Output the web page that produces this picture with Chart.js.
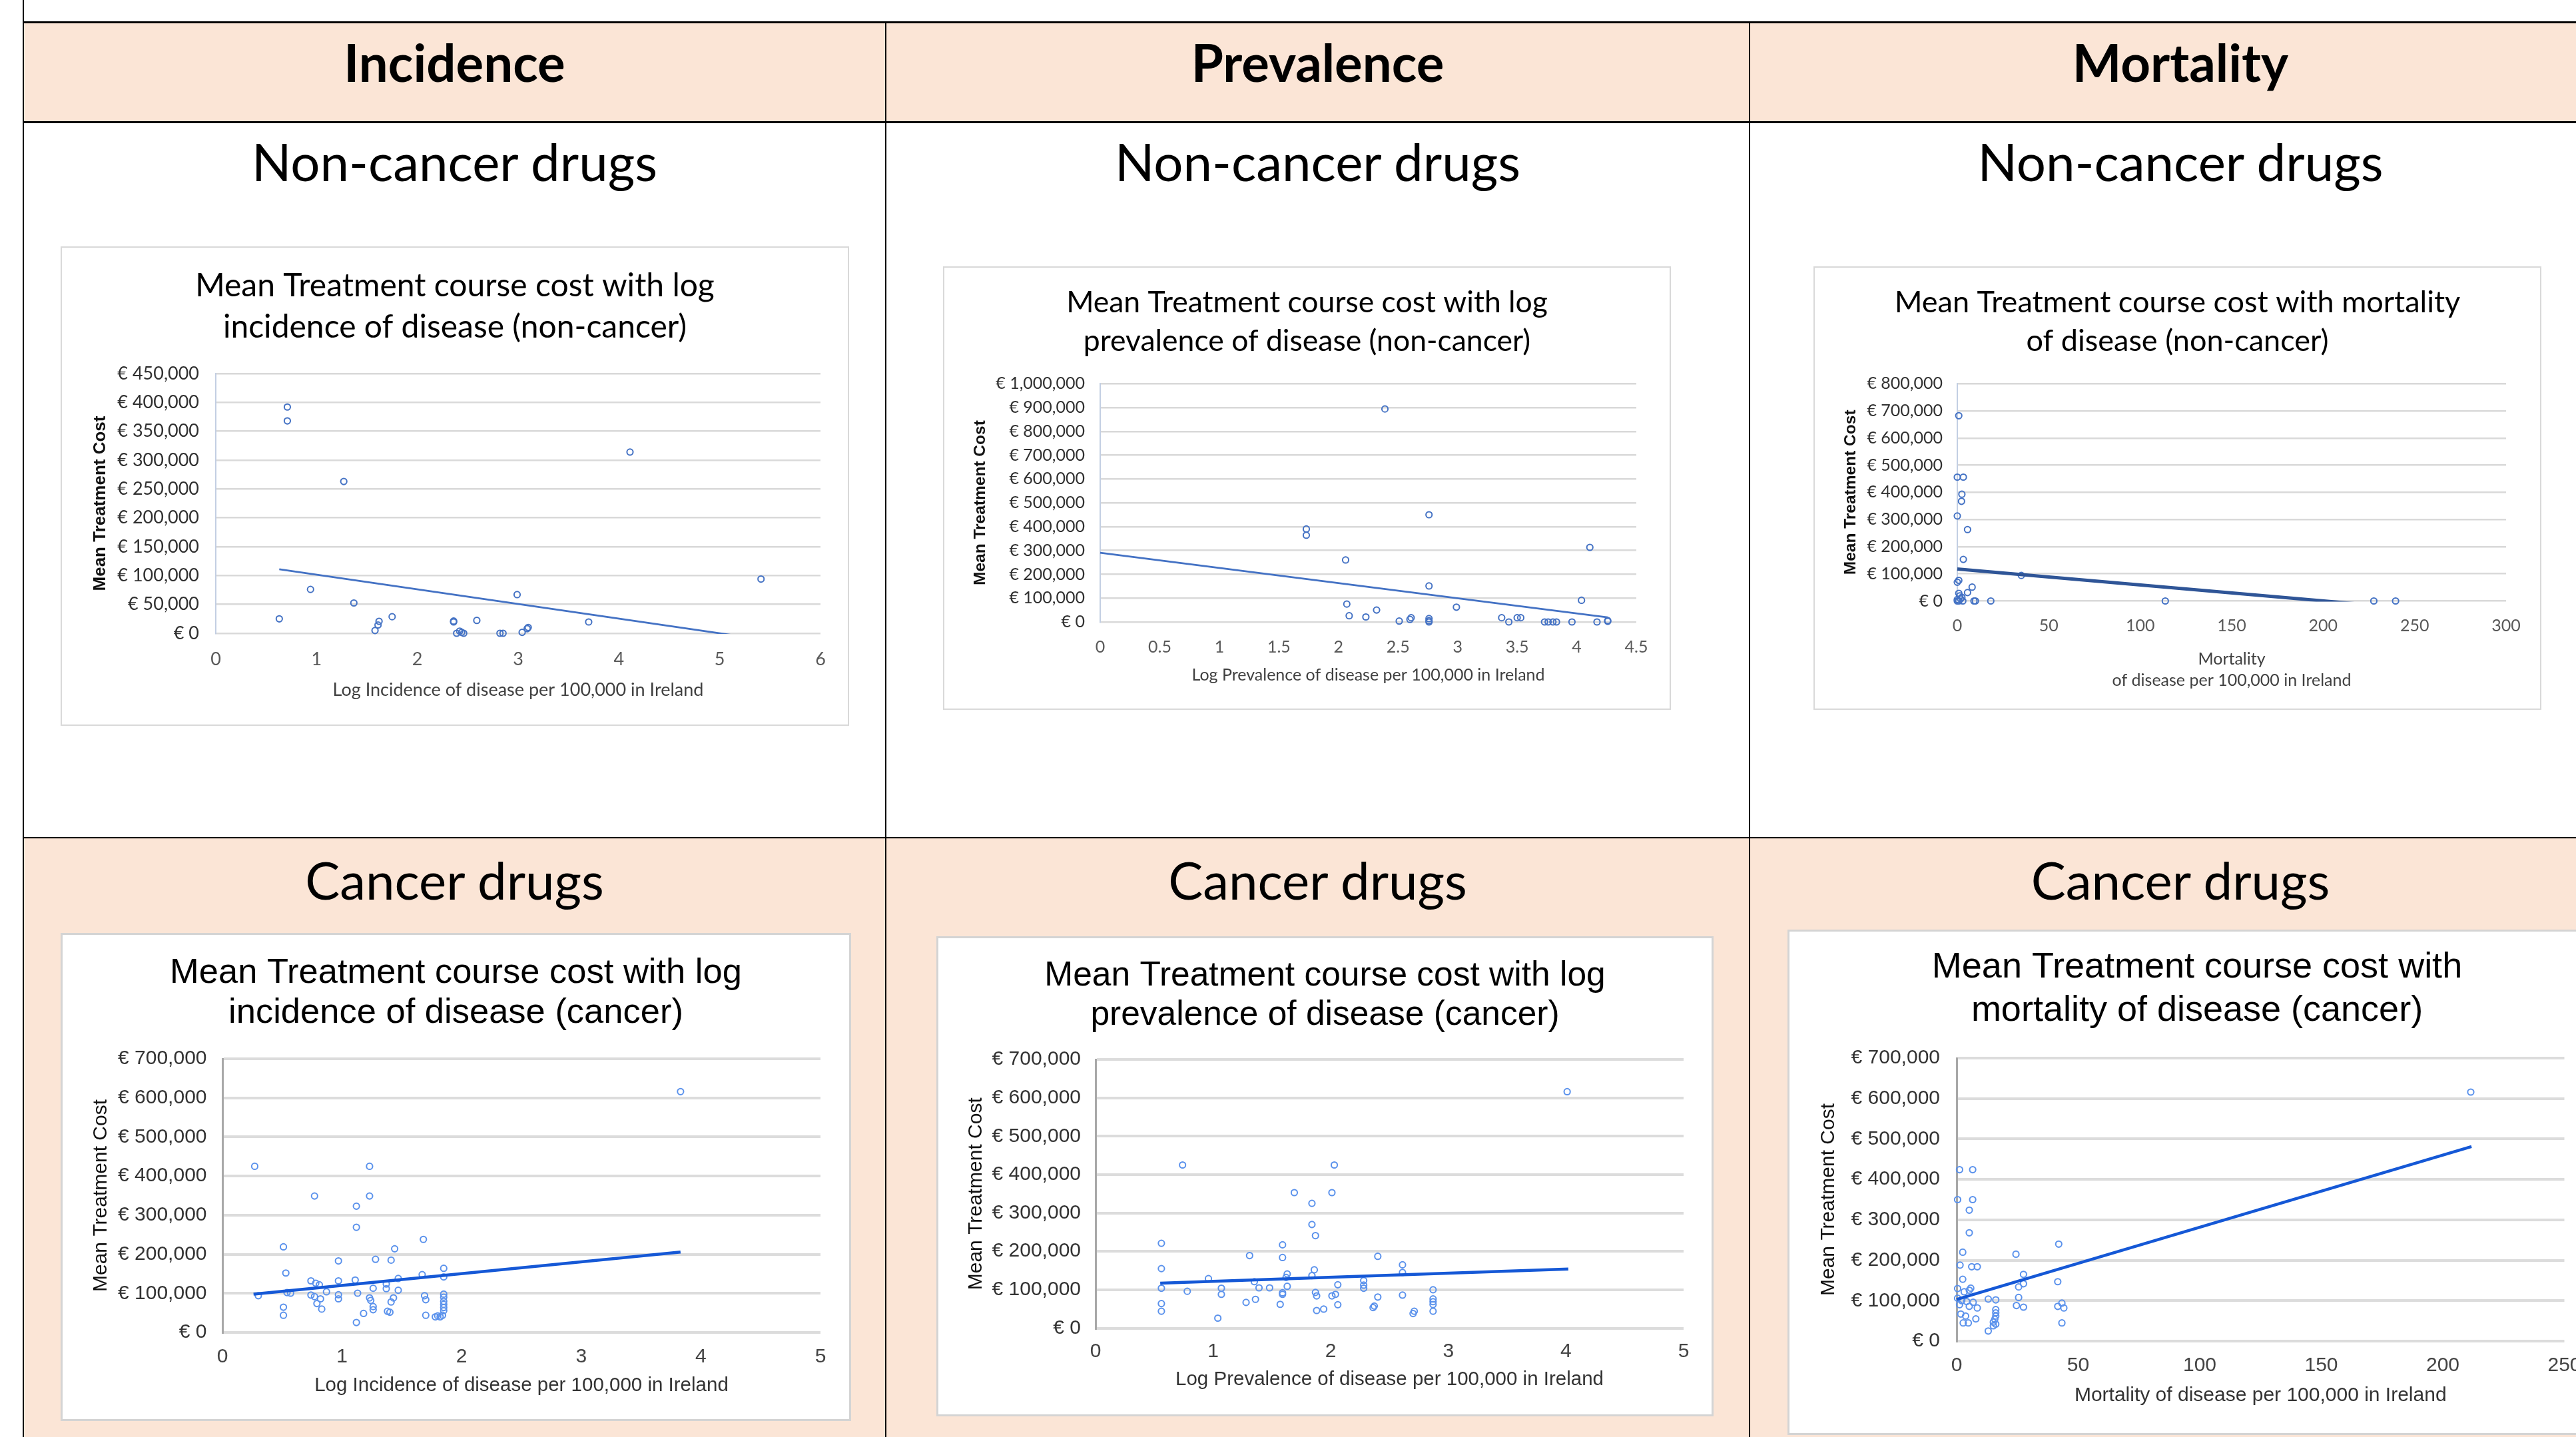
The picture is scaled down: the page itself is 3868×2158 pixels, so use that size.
<!DOCTYPE html>
<html>
<head>
<meta charset="utf-8">
<script src="https://cdn.jsdelivr.net/npm/chart.js@4.4.0/dist/chart.umd.min.js"></script>
<style>
  html, body { margin: 0; padding: 0; }
  body { width: 3868px; height: 2158px; overflow: hidden; background: #fff; position: relative; font-family: Lato, sans-serif; }
  .abs { position: absolute; }
  .peach { background: #FBE5D6; }
  .hline { background: #000; }
  .vline { background: #000; }
  .head { position: absolute; text-align: center; line-height: 1; color: #000; white-space: nowrap; }
  canvas { position: absolute; background: #fff; }
  .frameTop { outline: 2px solid #d9d9d9; outline-offset: -2px; }
  .frameBot { outline: 3px solid #d4d4d4; outline-offset: -3px; }
</style>
</head>
<body>
  <!-- table cells -->
  <div class="abs peach" style="left:35px; top:33px; width:3900px; height:150px;"></div>
  <div class="abs peach" style="left:35px; top:1258px; width:3900px; height:900px;"></div>
  <!-- table rules -->
  <div class="abs vline" style="left:34px; top:0; width:2px; height:2158px;"></div>
  <div class="abs hline" style="left:35px; top:32px; width:3900px; height:3px;"></div>
  <div class="abs hline" style="left:35px; top:182px; width:3900px; height:3px;"></div>
  <div class="abs hline" style="left:35px; top:1257px; width:3900px; height:2px;"></div>
  <div class="abs vline" style="left:1329px; top:33px; width:2px; height:2130px;"></div>
  <div class="abs vline" style="left:2626px; top:33px; width:2px; height:2130px;"></div>

  <!-- column and row headings -->
  <div class="head" style="left:35px; width:1295px; top:54px; font-size:78px; font-weight:700;">Incidence</div>
  <div class="head" style="left:1330px; width:1297px; top:54px; font-size:78px; font-weight:700;">Prevalence</div>
  <div class="head" style="left:2627px; width:1294px; top:54px; font-size:78px; font-weight:700;">Mortality</div>
  <div class="head" style="left:35px; width:1295px; top:203px; font-size:78px;">Non-cancer drugs</div>
  <div class="head" style="left:1330px; width:1297px; top:203px; font-size:78px;">Non-cancer drugs</div>
  <div class="head" style="left:2627px; width:1294px; top:203px; font-size:78px;">Non-cancer drugs</div>
  <div class="head" style="left:35px; width:1295px; top:1282px; font-size:78px;">Cancer drugs</div>
  <div class="head" style="left:1330px; width:1297px; top:1282px; font-size:78px;">Cancer drugs</div>
  <div class="head" style="left:2627px; width:1294px; top:1282px; font-size:78px;">Cancer drugs</div>

  <canvas id="cIncNon" class="frameTop" width="1184" height="720" style="left:91px; top:370px;"></canvas>
  <canvas id="cPrevNon" class="frameTop" width="1093" height="666" style="left:1416px; top:400px;"></canvas>
  <canvas id="cMortNon" class="frameTop" width="1093" height="666" style="left:2723px; top:400px;"></canvas>
  <canvas id="cIncCan" class="frameBot" width="1187" height="733" style="left:91px; top:1401px;"></canvas>
  <canvas id="cPrevCan" class="frameBot" width="1167" height="721" style="left:1406px; top:1406px;"></canvas>
  <canvas id="cMortCan" class="frameBot" width="1230" height="759" style="left:2684px; top:1396px;"></canvas>

<script>
// ---- Non-cancer drugs: mean treatment course cost (EUR) ----
const incNonX = [0.71, 0.71, 1.27, 4.11, 5.41, 2.99, 0.94, 1.37, 0.63, 1.75, 1.62, 1.61, 1.58, 2.36, 2.36, 2.59, 2.39, 2.42, 2.44, 2.46, 2.82, 2.85, 3.04, 3.09, 3.10, 3.70];
const incNonY = [392000, 368000, 263000, 314000, 94000, 67000, 76000, 52500, 25000, 28700, 20700, 14300, 4800, 21200, 19600, 22300, 0, 3700, 1600, 0, 0, 0, 1600, 8000, 10000, 19600];
const incNonTrendX = [0.63, 5.42];
const incNonTrendY = [111000, -10700];

const prevNonX = [2.39, 2.76, 1.73, 1.73, 4.11, 2.06, 2.76, 4.04, 2.07, 2.99, 2.32, 2.09, 2.23, 2.51, 2.60, 2.61, 2.76, 2.76, 2.76, 3.37, 3.43, 3.50, 3.53, 3.73, 3.76, 3.80, 3.83, 3.96, 4.17, 4.26, 4.26];
const prevNonY = [894000, 450000, 390000, 364000, 313000, 260000, 151000, 91000, 75000, 62000, 50000, 26000, 21000, 3600, 10700, 17800, 14200, 0, 5000, 17800, 0, 17800, 17800, 0, 0, 0, 0, 0, 0, 6000, 2400];
const prevNonTrendX = [0, 4.26];
const prevNonTrendY = [290600, 19000];

const mortNonX = [0.8, 0, 3.3, 2.5, 2.3, 0, 5.6, 3.3, 0.8, 0, 35, 8.1, 5.6, 0.8, 1.3, 2.5, 0, 0.8, 3, 9.1, 9.9, 18.3, 113.7, 227.7, 239.6, 1.8, 0];
const mortNonY = [682000, 456000, 456000, 393000, 367000, 313000, 263000, 153000, 76000, 69000, 94000, 51000, 31000, 28000, 19000, 13500, 5200, 0, 0, 0, 0, 0, 0, 0, 0, 8000, 0];
const mortNonTrendX = [0, 239.6];
const mortNonTrendY = [117700, -23000];

// ---- Cancer drugs ----
const incCanX = [3.83, 0.27, 1.23, 0.77, 1.23, 1.12, 1.12, 1.68, 0.51, 1.44, 0.97, 1.28, 1.41, 1.85, 0.53, 1.67, 1.85, 1.47, 1.11, 0.97, 0.74, 0.78, 0.81, 1.37, 1.26, 1.37, 1.47, 0.87, 0.54, 0.57, 1.13, 1.85, 0.30, 0.97, 0.74, 0.77, 1.23, 1.69, 1.85, 0.97, 0.82, 1.70, 1.24, 1.43, 1.41, 1.85, 0.79, 1.85, 1.26, 0.51, 1.85, 1.26, 0.83, 1.38, 1.85, 1.40, 1.18, 0.51, 1.70, 1.84, 1.80, 1.78, 1.82, 1.12];
const incCanY = [616000, 425000, 425000, 349000, 349000, 323000, 269000, 238000, 219000, 214000, 183000, 187000, 185000, 164000, 152000, 148000, 142000, 138000, 134000, 132000, 132000, 126000, 122000, 124000, 113000, 112000, 108000, 104000, 102000, 100500, 100500, 98000, 94000, 96500, 95700, 91700, 88500, 94000, 90000, 86000, 86000, 83700, 82000, 88500, 78000, 79700, 74000, 71800, 66200, 64600, 63800, 58200, 59800, 54200, 55800, 51800, 48600, 43900, 43900, 43900, 42300, 39900, 39900, 25500];
const incCanTrendX = [0.26, 3.83];
const incCanTrendY = [98000, 205700];

const prevCanX = [4.01, 0.74, 2.03, 1.69, 2.01, 1.84, 1.84, 1.87, 0.56, 1.59, 1.31, 1.59, 2.40, 2.61, 0.56, 1.86, 2.61, 1.63, 1.84, 1.62, 0.96, 2.28, 1.35, 2.06, 2.28, 1.63, 1.39, 1.48, 1.07, 0.56, 2.28, 2.87, 0.78, 1.87, 1.59, 1.59, 1.07, 2.04, 2.61, 1.88, 2.01, 2.40, 2.87, 1.36, 2.87, 1.28, 2.87, 2.06, 0.56, 1.57, 2.37, 2.36, 1.94, 1.88, 2.87, 0.56, 2.71, 2.70, 1.04];
const prevCanY = [616000, 425000, 425000, 353000, 353000, 325000, 270000, 241000, 221000, 217000, 189000, 184000, 187000, 165000, 155000, 152000, 145000, 141000, 137000, 132000, 129000, 124000, 121000, 113000, 112000, 109000, 105000, 105000, 104000, 104000, 104000, 100000, 96000, 93000, 92000, 88000, 88000, 88000, 86000, 84000, 84000, 81000, 76000, 75000, 69000, 67000, 61500, 61000, 64000, 62000, 57500, 53500, 49500, 46000, 44000, 44000, 44000, 38000, 26000];
const prevCanTrendX = [0.55, 4.02];
const prevCanTrendY = [117300, 154100];

const mortCanX = [211.5, 1.2, 6.6, 0.4, 6.6, 5.2, 5.2, 42.0, 2.5, 24.4, 1.4, 6.2, 8.5, 27.5, 2.5, 41.6, 27.5, 25.5, 0.4, 5.8, 5.2, 3.1, 0.4, 13.0, 16.1, 25.5, 2.1, 4.1, 6.8, 43.3, 1.2, 5.2, 8.5, 24.6, 27.5, 44.1, 41.6, 16.1, 16.1, 1.7, 3.7, 16.1, 7.9, 15.7, 15.1, 2.7, 4.8, 43.3, 16.1, 15.1, 13.0];
const mortCanY = [616000, 424000, 424000, 350000, 350000, 324000, 268000, 240000, 220000, 215000, 188000, 184000, 184000, 165000, 153000, 147000, 142000, 134000, 130000, 131000, 126000, 122000, 106000, 104000, 102000, 108000, 100000, 98000, 96000, 94000, 90000, 86000, 82000, 88000, 84000, 82000, 86000, 78000, 70000, 67000, 62000, 62000, 55000, 54000, 47000, 45000, 45000, 45000, 42000, 38000, 25000];
const mortCanTrendX = [0, 211.8];
const mortCanTrendY = [103000, 481000];

// ---- text ----
const yAxisTitle = 'Mean Treatment Cost';
const titles = {
  incNon: ['Mean Treatment course cost with log', 'incidence of disease (non-cancer)'],
  prevNon: ['Mean Treatment course cost with log', 'prevalence of disease (non-cancer)'],
  mortNon: ['Mean Treatment course cost with mortality', 'of disease (non-cancer)'],
  incCan: ['Mean Treatment course cost with log', 'incidence of disease (cancer)'],
  prevCan: ['Mean Treatment course cost with log', 'prevalence of disease (cancer)'],
  mortCan: ['Mean Treatment course cost with', 'mortality of disease (cancer)']
};
const xTitles = {
  incNon: 'Log Incidence of disease per 100,000 in Ireland',
  prevNon: 'Log Prevalence of disease per 100,000 in Ireland',
  mortNon: ['Mortality', 'of disease per 100,000 in Ireland'],
  incCan: 'Log Incidence of disease per 100,000 in Ireland',
  prevCan: 'Log Prevalence of disease per 100,000 in Ireland',
  mortCan: 'Mortality of disease per 100,000 in Ireland'
};

const zip = (xs, ys) => xs.map((x, i) => ({ x: x, y: ys[i] }));
const euro = v => '\u20AC ' + Number(v).toLocaleString('en-US');
const plain = v => String(Number(v.toFixed(2)));

// Excel-style look (top row) and Sheets-style look (bottom row)
const excelStyle = {
  font: 'Lato', axisFont: 'Liberation Sans', yTitleWeight: 'bold',
  pointColor: '#4472C4', trendColor: '#4472C4', trendWidth: 2.8,
  gridColor: '#d9d9d9', gridWidth: 2.5, axisColor: '#c3cfe3', axisWidth: 2,
  yTickColor: '#303030', xTickColor: '#595959', xTitleColor: '#404040'
};
const sheetsStyle = {
  font: 'Liberation Sans', axisFont: 'Liberation Sans', yTitleWeight: 'normal',
  pointColor: '#5b92ec', trendColor: '#1558d6', trendWidth: 4.5,
  gridColor: '#dcdcdc', gridWidth: 4, axisColor: '#a8a8a8', axisWidth: 3,
  yTickColor: '#333333', xTickColor: '#444444', xTitleColor: '#333333'
};

function scatterChart(id, pts, trend, s, g) {
  return new Chart(document.getElementById(id), {
    type: 'scatter',
    data: {
      datasets: [
        { data: trend, showLine: true, pointRadius: 0, borderColor: g.trendColor || s.trendColor,
          borderWidth: g.trendWidth || s.trendWidth, clip: 1, order: 0 },
        { data: pts, showLine: false, pointRadius: 4.6, pointBorderWidth: 2,
          pointBorderColor: s.pointColor, pointBackgroundColor: 'rgba(255,255,255,0)', clip: false, order: 1 }
      ]
    },
    options: {
      responsive: false, animation: false, events: [],
      layout: { padding: 0 },
      plugins: {
        legend: { display: false }, tooltip: { enabled: false },
        title: { display: true, text: g.title, color: '#000',
          font: { family: s.font, size: g.titleSize, weight: 'normal', lineHeight: g.titleLH + 'px' },
          padding: { top: g.titlePad[0], bottom: g.titlePad[1] } }
      },
      scales: {
        x: {
          type: 'linear', min: g.xMin, max: g.xMax,
          afterFit: sc => { sc.height = g.xH; },
          grid: { display: false, drawTicks: false },
          border: { display: false },
          ticks: { stepSize: g.xStep, autoSkip: false, maxRotation: 0, padding: g.xTickPad, color: s.xTickColor,
            font: { family: s.font, size: g.tickSize }, callback: plain },
          title: { display: true, text: g.xTitle, color: s.xTitleColor,
            font: { family: s.font, size: g.xTitleSize, lineHeight: g.xTitleLH + 'px' },
            padding: { top: 0, bottom: g.xTitlePad } }
        },
        y: {
          type: 'linear', min: 0, max: g.yMax,
          afterFit: sc => { sc.width = g.yW; },
          grid: { display: true, drawTicks: false, color: s.gridColor, lineWidth: s.gridWidth },
          border: { display: true, color: s.axisColor, width: s.axisWidth },
          ticks: { stepSize: g.yStep, autoSkip: false, padding: g.yTickPad, color: s.yTickColor,
            font: { family: s.font, size: g.tickSize }, callback: euro },
          title: { display: true, text: yAxisTitle, color: '#111',
            font: { family: s.axisFont, size: g.yTitleSize, weight: s.yTitleWeight, lineHeight: 1.2 },
            padding: { top: g.yTitlePad, bottom: 0 } }
        },
        // empty right-hand margin, so the chart title stays centred on the whole frame
        margin: {
          type: 'linear', position: 'right', axis: 'y', display: true,
          afterFit: sc => { sc.width = g.padRight; },
          grid: { display: false, drawTicks: false }, border: { display: false },
          ticks: { display: false }
        }
      }
    }
  });
}

scatterChart('cIncNon', zip(incNonX, incNonY), zip(incNonTrendX, incNonTrendY), excelStyle, {
  title: titles.incNon, titleSize: 48, titleLH: 62, titlePad: [29, 38], padRight: 43,
  xMin: 0, xMax: 6, xStep: 1, xH: 139, xTickPad: 23, xTitle: xTitles.incNon, xTitleSize: 27, xTitleLH: 32, xTitlePad: 38,
  yMax: 450000, yStep: 50000, yW: 233, yTickPad: 25, yTitleSize: 26, yTitlePad: 44.4, tickSize: 27
});
scatterChart('cPrevNon', zip(prevNonX, prevNonY), zip(prevNonTrendX, prevNonTrendY), excelStyle, {
  title: titles.prevNon, titleSize: 44.5, titleLH: 57.6, titlePad: [26, 35], padRight: 52,
  xMin: 0, xMax: 4.5, xStep: 0.5, xH: 132, xTickPad: 22.6, xTitle: xTitles.prevNon, xTitleSize: 25, xTitleLH: 30, xTitlePad: 37,
  yMax: 1000000, yStep: 100000, yW: 236, yTickPad: 23, yTitleSize: 24.5, yTitlePad: 41.3, tickSize: 25
});
scatterChart('cMortNon', zip(mortNonX, mortNonY), zip(mortNonTrendX, mortNonTrendY), excelStyle, {
  title: titles.mortNon, titleSize: 45, titleLH: 57.6, titlePad: [26, 35], padRight: 53,
  trendColor: '#2F5597', trendWidth: 5,
  xMin: 0, xMax: 300, xStep: 50, xH: 163.5, xTickPad: 22, xTitle: xTitles.mortNon, xTitleSize: 25, xTitleLH: 32.4, xTitlePad: 27.8,
  yMax: 800000, yStep: 100000, yW: 216, yTickPad: 22, yTitleSize: 24.5, yTitlePad: 41.3, tickSize: 25
});
scatterChart('cIncCan', zip(incCanX, incCanY), zip(incCanTrendX, incCanTrendY), sheetsStyle, {
  title: titles.incCan, titleSize: 52.5, titleLH: 60, titlePad: [31, 38], padRight: 46,
  xMin: 0, xMax: 5, xStep: 1, xH: 133, xTickPad: 18.6, xTitle: xTitles.incCan, xTitleSize: 29.5, xTitleLH: 35, xTitlePad: 35.5,
  yMax: 700000, yStep: 100000, yW: 243, yTickPad: 23.5, yTitleSize: 30, yTitlePad: 42.6, tickSize: 30
});
scatterChart('cPrevCan', zip(prevCanX, prevCanY), zip(prevCanTrendX, prevCanTrendY), sheetsStyle, {
  title: titles.prevCan, titleSize: 51.5, titleLH: 58.8, titlePad: [30.4, 37], padRight: 45,
  xMin: 0, xMax: 5, xStep: 1, xH: 132.5, xTickPad: 17, xTitle: xTitles.prevCan, xTitleSize: 29.5, xTitleLH: 35, xTitlePad: 37.5,
  yMax: 700000, yStep: 100000, yW: 239, yTickPad: 22, yTitleSize: 30, yTitlePad: 41.5, tickSize: 30
});
scatterChart('cMortCan', zip(mortCanX, mortCanY), zip(mortCanTrendX, mortCanTrendY), sheetsStyle, {
  title: titles.mortCan, titleSize: 54, titleLH: 64.8, titlePad: [24.6, 38.8], padRight: 63.5,
  xMin: 0, xMax: 250, xStep: 50, xH: 141, xTickPad: 18.3, xTitle: xTitles.mortCan, xTitleSize: 30, xTitleLH: 36, xTitlePad: 41,
  yMax: 700000, yStep: 100000, yW: 254, yTickPad: 25, yTitleSize: 30, yTitlePad: 44, tickSize: 30
});
</script>
</body>
</html>
